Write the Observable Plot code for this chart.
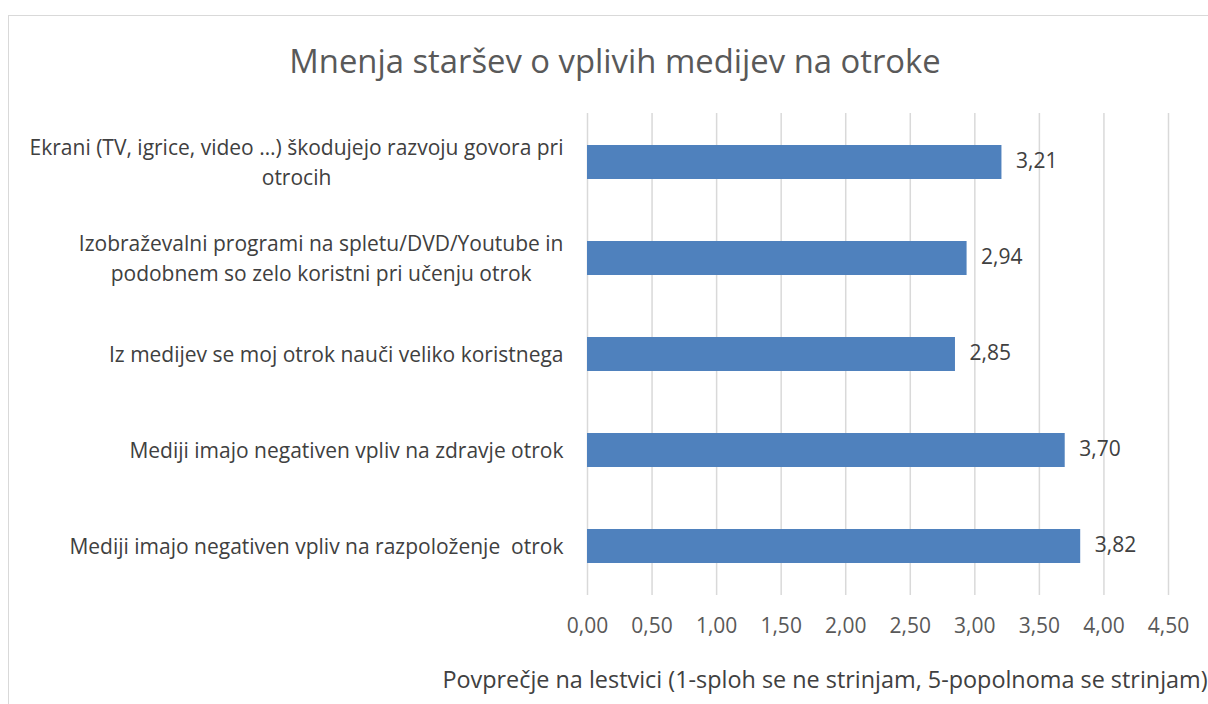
<!DOCTYPE html>
<html><head><meta charset="utf-8">
<script src="https://cdn.jsdelivr.net/npm/d3@7"></script>
<script src="https://cdn.jsdelivr.net/npm/@observablehq/plot@0.6"></script>
<style>
html,body{margin:0;padding:0;background:#fff;overflow:hidden;}
#wrap{position:relative;width:1208px;height:704px;overflow:hidden;font-family:"Open Sans",sans-serif;}
#frame{position:absolute;left:8px;top:15px;width:1300px;height:800px;border:1.5px solid #d9d9d9;box-sizing:border-box;}
#title{position:absolute;top:41px;left:0;width:1230px;text-align:center;font-size:32.8px;color:#595959;line-height:1.2;}
#xlabel{position:absolute;top:665px;left:0;width:1650px;text-align:center;font-size:23.4px;color:#404040;line-height:1.2;white-space:nowrap;}
#chart{position:absolute;left:0;top:0;}
</style></head>
<body>
<div id="wrap">
  <div id="frame"></div>
  <div id="chart"></div>
  <div id="title">Mnenja staršev o vplivih medijev na otroke</div>
  <div id="xlabel">Povprečje na lestvici (1-sploh se ne strinjam, 5-popolnoma se strinjam)</div>
</div>
<script>
const categories = [
  "Ekrani (TV, igrice, video …) škodujejo razvoju govora pri\notrocih",
  "Izobraževalni programi na spletu/DVD/Youtube in\npodobnem so zelo koristni pri učenju otrok",
  "Iz medijev se moj otrok nauči veliko koristnega",
  "Mediji imajo negativen vpliv na zdravje otrok",
  "Mediji imajo negativen vpliv na razpoloženje  otrok"
];
const values = [3.21, 2.94, 2.85, 3.70, 3.82];
const xTicks = [0, 0.5, 1, 1.5, 2, 2.5, 3, 3.5, 4, 4.5];

const data = categories.map((c, i) => ({cat: c, value: values[i]}));
const fmt = d => d.toFixed(2).replace(".", ",");

const chart = Plot.plot({
  width: 1208,
  height: 704,
  marginLeft: 587,
  marginRight: 40,
  marginTop: 113,
  marginBottom: 109,
  style: {fontFamily: "'Open Sans', sans-serif", background: "transparent"},
  x: {domain: [0, 4.5], ticks: xTicks, tickFormat: fmt, label: null},
  y: {domain: categories, paddingInner: 0.65, paddingOuter: 0.325, label: null},
  marks: [
    Plot.gridX(xTicks, {stroke: "#d9d9d9", strokeOpacity: 1, strokeWidth: 1.5}),
    Plot.barX(data, {x: "value", y: "cat", fill: "#4f81bd"}),
    Plot.text(data, {x: "value", y: "cat", text: d => fmt(d.value), textAnchor: "start", dx: 14, dy: -1, fill: "#404040", fontSize: 21}),
    Plot.axisX({ticks: xTicks, tickFormat: fmt, tickSize: 0, tickPadding: 23, fontSize: 21, fill: "#595959", label: null}),
    Plot.axisY({tickSize: 0, tickPadding: 24, fontSize: 21, fill: "#404040", label: null, lineHeight: 1.4, lineWidth: 100, dy: -2})
  ]
});
document.getElementById("chart").appendChild(chart);

// center the lines of wrapped category labels, as in the original
chart.querySelectorAll('g[aria-label="y-axis tick label"] text').forEach(t => {
  const spans = t.querySelectorAll("tspan");
  if (spans.length > 1) {
    const w = t.getBBox().width;
    t.setAttribute("text-anchor", "middle");
    spans.forEach(s => s.setAttribute("x", -w / 2));
  }
});
</script>
</body></html>
